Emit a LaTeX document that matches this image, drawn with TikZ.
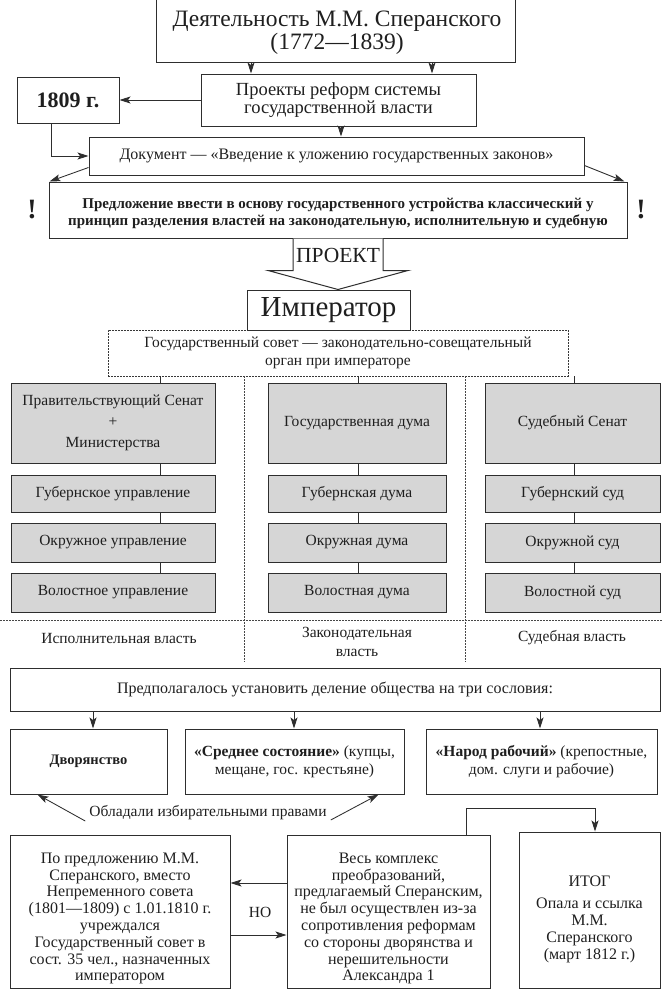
\documentclass[tikz,border=0pt]{standalone}
\usepackage{fontspec}
\setmainfont{Liberation Serif}
\usetikzlibrary{arrows.meta,calc}
\begin{document}
\begin{tikzpicture}[x=1pt,y=-1pt,
  every node/.style={text=black!88, inner sep=0pt, align=center},
  bx/.style={draw=black!82, line width=1pt, fill=white},
  gbx/.style={bx, fill=black!16},
  dotbox/.style={draw=black!78, line width=0.85pt, dash pattern=on 1.6pt off 1.4pt, fill=white},
  arr/.style={draw=black!82, line width=0.85pt, -{Stealth[length=11pt,width=7pt,inset=2.5pt]}},
  ln/.style={draw=black!82, line width=0.85pt},
  dotln/.style={draw=black!72, line width=0.85pt, dash pattern=on 1.6pt off 1.4pt},
  f15/.style={font=\fontsize{15.5}{17}\selectfont},
  fb/.style={font=\fontsize{16}{16.8}\selectfont},
  colw/.style={minimum width=204pt},
  colm/.style={minimum width=178pt},
  colr/.style={minimum width=175pt}
]
\useasboundingbox (0,0) rectangle (662,993);
\fill[white] (0,0) rectangle (662,993);

% ---- top part ----
\node[bx, minimum width=359pt, minimum height=64pt] (top) at (335.5,30) {};
\node[font=\fontsize{23.5}{23}\selectfont] (topt) at (337,33) {Деятельность М.М. Сперанского\\(1772—1839)};
\node[bx, minimum width=275pt, minimum height=52pt, font=\fontsize{18.5}{18.5}\selectfont] (proj) at (338.5,100) {Проекты реформ системы\\государственной власти};
\node[bx, minimum width=102pt, minimum height=46pt, font=\bfseries\fontsize{22}{24}\selectfont] (year) at (68,100) {1809 г.};
\node[bx, minimum width=495pt, minimum height=38pt, font=\fontsize{16}{17}\selectfont] (doc) at (336.5,156) {Документ — «Введение к уложению государственных законов»};
\node[bx, minimum width=578pt, minimum height=56pt] (pred) at (338,210) {};
\node[font=\bfseries\fontsize{15}{17}\selectfont] (predt) at (338,213) {Предложение ввести в основу государственного устройства классический у\\принцип разделения властей на законодательную, исполнительную и судебную};
\node[font=\bfseries\fontsize{28}{28}\selectfont] (ex1) at (32,210) {!};
\node[font=\bfseries\fontsize{28}{28}\selectfont] (ex2) at (641,210) {!};

\coordinate (t1) at (251,0);
\coordinate (t2) at (432,0);
\coordinate (pd) at (341,0);
\coordinate (yb) at (51,156);
\draw[arr] (top.south -| t1) -- (proj.north -| t1);
\draw[arr] (top.south -| t2) -- (proj.north -| t2);
\draw[arr] (proj.west) -- (year.east);
\draw[arr] (year.south -| yb) -- (yb) -- (doc.west);
\draw[arr] (proj.south -| pd) -- (doc.north -| pd);
\draw[arr] ($(doc.south west)+(0,-8)$) -- ($(pred.north west)+(1,0)$);
\draw[arr] ($(doc.south east)+(0,-10)$) -- ($(pred.north east)+(-3,0)$);

% ---- council ----
\node[dotbox, minimum width=460pt, minimum height=46pt, font=\fontsize{15.5}{18}\selectfont] (council) at (338,353) {Государственный совет — законодательно-совещательный\\орган при императоре};
\node[bx, minimum width=163pt, minimum height=40pt, font=\fontsize{29}{30}\selectfont] (imp) at (328.5,310) {Император};

\coordinate (pa) at (pred.south);
\draw[ln, line width=1pt, fill=white, line join=miter] ($(pa)+(-45,0)$) -- ($(pa)+(-45,32)$) -- ($(pa)+(-70,32)$) -- (imp.north -| pa) -- ($(pa)+(70,32)$) -- ($(pa)+(45,32)$) -- ($(pa)+(45,0)$);
\node[font=\fontsize{21.5}{22}\selectfont] (proekt) at (338,255) {ПРОЕКТ};

% ---- columns ----
\node[gbx, colw, minimum height=80pt, font=\fontsize{15.5}{21}\selectfont] (L1) at (113,423) {Правительствующий Сенат\\+\\Министерства};
\node[gbx, colw, minimum height=37pt, f15] (L2) at (113,493.5) {Губернское управление};
\node[gbx, colw, minimum height=39pt, f15] (L3) at (113,542.5) {Окружное управление};
\node[gbx, colw, minimum height=39pt, f15] (L4) at (113,592.5) {Волостное управление};
\node[gbx, colm, minimum height=80pt, f15] (M1) at (357,423) {Государственная дума};
\node[gbx, colm, minimum height=37pt, f15] (M2) at (357,493.5) {Губернская дума};
\node[gbx, colm, minimum height=39pt, f15] (M3) at (357,542.5) {Окружная дума};
\node[gbx, colm, minimum height=39pt, f15] (M4) at (357,592.5) {Волостная дума};
\node[gbx, colr, minimum height=80pt, f15] (R1) at (572.5,423) {Судебный Сенат};
\node[gbx, colr, minimum height=37pt, f15] (R2) at (572.5,493.5) {Губернский суд};
\node[gbx, colr, minimum height=39pt, f15] (R3) at (572.5,542.5) {Окружной суд};
\node[gbx, colr, minimum height=39pt, f15] (R4) at (572.5,592.5) {Волостной суд};

\coordinate (cl) at (160,0);
\coordinate (cm) at (358,0);
\coordinate (cr) at (574,0);
\draw[ln] (council.south -| cl) -- (L1.north -| cl);
\draw[ln] (L1.south -| cl) -- (L2.north -| cl);
\draw[ln] (L2.south -| cl) -- (L3.north -| cl);
\draw[ln] (L3.south -| cl) -- (L4.north -| cl);
\draw[ln] (council.south -| cm) -- (M1.north -| cm);
\draw[ln] (M1.south -| cm) -- (M2.north -| cm);
\draw[ln] (M2.south -| cm) -- (M3.north -| cm);
\draw[ln] (M3.south -| cm) -- (M4.north -| cm);
\draw[ln] (council.south -| cr) -- (R1.north -| cr);
\draw[ln] (R1.south -| cr) -- (R2.north -| cr);
\draw[ln] (R2.south -| cr) -- (R3.north -| cr);
\draw[ln] (R3.south -| cr) -- (R4.north -| cr);

\coordinate (s1) at (244,0);
\coordinate (s2) at (465,0);
\coordinate (send) at (0,662);
\coordinate (hl) at (0,620);
\coordinate (hr) at (662,620);
\draw[dotln] (council.south -| s1) -- (send -| s1);
\draw[dotln] (council.south -| s2) -- (send -| s2);
\draw[dotln] (hl) -- (hr);

\node[f15] (lab1) at (119,638) {Исполнительная власть};
\node[font=\fontsize{15.5}{19}\selectfont] (lab2) at (357,642) {Законодательная\\власть};
\node[f15] (lab3) at (572,638) {Судебная власть};

% ---- estates ----
\node[bx, minimum width=650pt, minimum height=43pt, font=\fontsize{16}{17}\selectfont] (soc) at (335,689.5) {Предполагалось установить деление общества на три сословия:};
\node[bx, minimum width=157pt, minimum height=65pt, font=\bfseries\fontsize{14.5}{17}\selectfont] (D) at (88.5,761.5) {Дворянство};
\node[bx, minimum width=219pt, minimum height=65pt, font=\fontsize{15.5}{18}\selectfont] (S) at (294.5,761.5) {\textbf{«Среднее состояние»} (купцы,\\мещане, гос. крестьяне)};
\node[bx, minimum width=231pt, minimum height=65pt, font=\fontsize{15.5}{18}\selectfont] (N) at (541.5,761.5) {\textbf{«Народ рабочий»} (крепостные,\\дом. слуги и рабочие)};

\coordinate (a1) at (93,0);
\coordinate (a2) at (294,0);
\coordinate (a3) at (540,0);
\draw[arr] (soc.south -| a1) -- (D.north -| a1);
\draw[arr] (soc.south -| a2) -- (S.north -| a2);
\draw[arr] (soc.south -| a3) -- (N.north -| a3);

\node[font=\fontsize{15.5}{17}\selectfont] (obl) at (208,813) {Обладали избирательными правами};
\draw[arr] ($(obl.west)+(-4,8)$) -- ($(D.south west)+(28,0)$);
\draw[arr] ($(obl.east)+(4,7)$) -- ($(S.south west)+(194,0)$);

% ---- bottom ----
\node[bx, minimum width=220pt, minimum height=153pt] (B1) at (120,911.5) {};
\node[fb] (B1t) at (120,918.5) {По предложению М.М.\\Сперанского, вместо\\Непременного совета\\(1801—1809) с 1.01.1810 г.\\учреждался\\Государственный совет в\\сост. 35 чел., назначенных\\императором};
\node[bx, minimum width=203pt, minimum height=153pt] (B2) at (388.5,911.5) {};
\node[fb] (B2t) at (388.5,918.5) {Весь комплекс\\преобразований,\\предлагаемый Сперанским,\\не был осуществлен из-за\\сопротивления реформам\\со стороны дворянства и\\нерешительности\\Александра 1};
\node[bx, minimum width=141pt, minimum height=156pt] (B3) at (589.5,910) {};
\node[fb] (B3t) at (589.5,919) {ИТОГ\\[6pt]Опала и ссылка\\М.М.\\Сперанского\\(март 1812 г.)};

\coordinate (c1) at (466,808);
\coordinate (c2) at (595,808);
\draw[arr] (B2.north -| c1) -- (c1) -- (c2) -- (B3.north -| c2);
\coordinate (y1) at (0,883);
\coordinate (y2) at (0,935);
\draw[arr] (B2.west |- y1) -- (B1.east |- y1);
\draw[arr] (B1.east |- y2) -- (B2.west |- y2);
\node[f15] (no) at (260,912) {НО};
\end{tikzpicture}
\end{document}
